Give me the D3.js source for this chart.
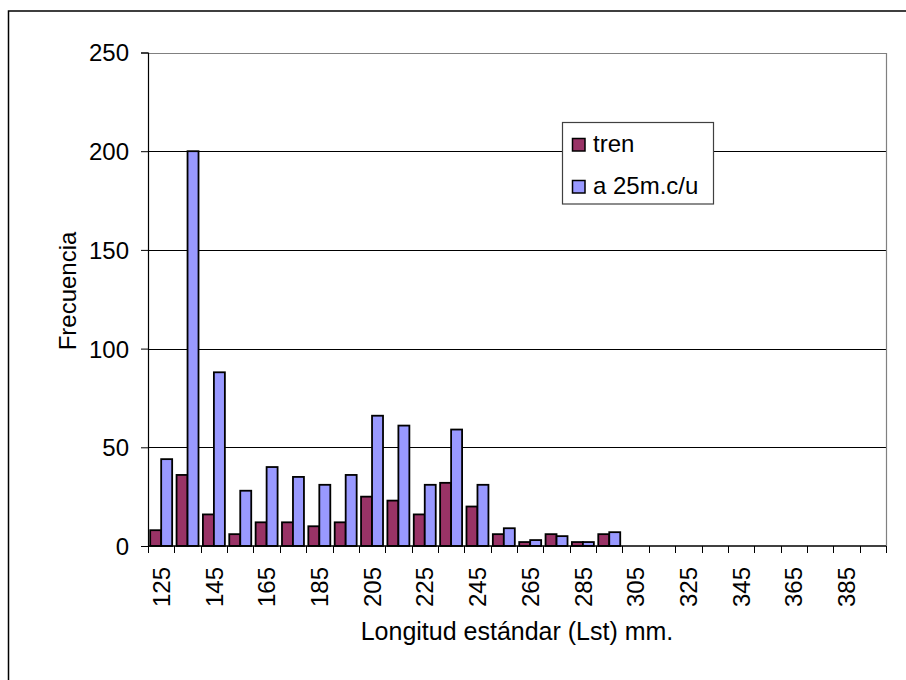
<!DOCTYPE html>
<html>
<head>
<meta charset="utf-8">
<script src="https://cdn.jsdelivr.net/npm/d3@7"></script>
<style>
  body { margin: 0; background: #fff; }
  svg text { font-family: Arial, "Liberation Sans", sans-serif; fill: #000; }
</style>
</head>
<body>
<div id="canvas"></div>
<script>
(function () {
  'use strict';
  const categories = ['125', '135', '145', '155', '165', '175', '185', '195', '205', '215', '225', '235', '245', '255',
    '265', '275', '285', '295', '305', '315', '325', '335', '345', '355', '365', '375', '385', '395'];
  const tren = [8, 36, 16, 6, 12, 12, 10, 12, 25, 23, 16, 32, 20, 6, 2, 6, 2, 6, 0, 0, 0, 0, 0, 0, 0, 0, 0, 0];
  const a25 = [44, 200, 88, 28, 40, 35, 31, 36, 66, 61, 31, 59, 31, 9, 3, 5, 2, 7, 0, 0, 0, 0, 0, 0, 0, 0, 0, 0];
  const seriesNames = ['tren', 'a 25m.c/u'];
  const colors = ['#993366', '#9999ff'];
  const yTicks = [0, 50, 100, 150, 200, 250];

  const width = 906;
  const height = 680;
  const left = 148, right = 886, top = 52.5, bottom = 546;

  const svg = d3.select('#canvas').append('svg')
    .attr('width', width)
    .attr('height', height);

  // outer chart border (runs past the right and bottom edge)
  svg.append('rect')
    .attr('x', 8.5).attr('y', 11)
    .attr('width', 920).attr('height', 700)
    .attr('fill', 'none').attr('stroke', '#000').attr('stroke-width', 1.5);

  const x0 = d3.scaleBand().domain(categories).range([left, right]).padding(0);
  const x1 = d3.scaleBand().domain(seriesNames).range([0, x0.bandwidth()]).paddingInner(0).paddingOuter(0.2);
  const y = d3.scaleLinear().domain([0, 250]).range([bottom, top]);

  // gridlines
  svg.append('g')
    .selectAll('line')
    .data(yTicks.filter(d => d > 0 && d < 250))
    .enter().append('line')
    .attr('x1', left).attr('x2', right)
    .attr('y1', d => Math.round(y(d)) + 0.5).attr('y2', d => Math.round(y(d)) + 0.5)
    .attr('stroke', '#000').attr('stroke-width', 1);

  // plot area border top/right
  svg.append('path')
    .attr('d', 'M' + left + ',' + (Math.round(y(250)) + 0.5) + 'H' + (right + 0.5) + 'V' + bottom)
    .attr('fill', 'none').attr('stroke', '#808080').attr('stroke-width', 1.2);

  // bars
  const groups = svg.append('g')
    .selectAll('g')
    .data(categories)
    .enter().append('g')
    .attr('transform', d => 'translate(' + x0(d) + ',0)');

  groups.selectAll('rect')
    .data((d, i) => [tren[i], a25[i]].map((v, j) => ({ key: seriesNames[j], value: v, color: colors[j] })))
    .enter().append('rect')
    .filter(d => d.value > 0)
    .attr('x', d => x1(d.key))
    .attr('y', d => y(d.value))
    .attr('width', x1.bandwidth())
    .attr('height', d => y(0) - y(d.value))
    .attr('fill', d => d.color)
    .attr('stroke', '#000')
    .attr('stroke-width', 1.8);

  // y axis
  const yAxis = d3.axisLeft(y).tickValues(yTicks).tickSize(7).tickPadding(12).tickFormat(d3.format('d'));
  const gy = svg.append('g')
    .attr('transform', 'translate(' + left + ',0)')
    .call(yAxis);
  gy.select('.domain').attr('stroke', '#000').attr('stroke-width', 1.2);
  gy.selectAll('.tick line').attr('stroke', '#000');
  gy.selectAll('.tick text').style('font-size', '24px').attr('dy', '0.35em');

  // x axis line and boundary ticks
  svg.append('line')
    .attr('x1', left).attr('x2', right)
    .attr('y1', bottom).attr('y2', bottom)
    .attr('stroke', '#000').attr('stroke-width', 1.5);

  const bounds = categories.map(c => x0(c)).concat([right]);
  svg.append('g')
    .selectAll('line')
    .data(bounds)
    .enter().append('line')
    .attr('x1', d => Math.round(d) + 0.5).attr('x2', d => Math.round(d) + 0.5)
    .attr('y1', bottom).attr('y2', bottom + 7)
    .attr('stroke', '#000').attr('stroke-width', 1);

  const xAxis = d3.axisBottom(x0)
    .tickValues(categories.filter((c, i) => i % 2 === 0))
    .tickSize(0);
  const gx = svg.append('g')
    .attr('transform', 'translate(0,' + bottom + ')')
    .call(xAxis);
  gx.select('.domain').remove();
  gx.selectAll('.tick text')
    .style('font-size', '24px')
    .attr('text-anchor', 'end')
    .attr('transform', 'rotate(-90)')
    .attr('x', -21)
    .attr('y', 0)
    .attr('dy', '0.36em');

  // axis titles
  svg.append('text')
    .attr('x', (left + right) / 2)
    .attr('y', 640)
    .attr('text-anchor', 'middle')
    .style('font-size', '25px')
    .text('Longitud estándar (Lst) mm.');

  svg.append('text')
    .attr('transform', 'translate(76,291) rotate(-90)')
    .attr('text-anchor', 'middle')
    .style('font-size', '24px')
    .text('Frecuencia');

  // legend
  const legend = svg.append('g');
  legend.append('rect')
    .attr('x', 562.5).attr('y', 122.5)
    .attr('width', 151).attr('height', 81.5)
    .attr('fill', '#fff').attr('stroke', '#404040').attr('stroke-width', 1.2);

  seriesNames.forEach((name, i) => {
    const by = 152 + i * 42;
    legend.append('rect')
      .attr('x', 572.5).attr('y', by - 13.5)
      .attr('width', 12.5).attr('height', 12.5)
      .attr('fill', colors[i]).attr('stroke', '#000').attr('stroke-width', 1.5);
    legend.append('text')
      .attr('x', 593).attr('y', by)
      .style('font-size', '24px')
      .text(name);
  });
}());
</script>
</body>
</html>
